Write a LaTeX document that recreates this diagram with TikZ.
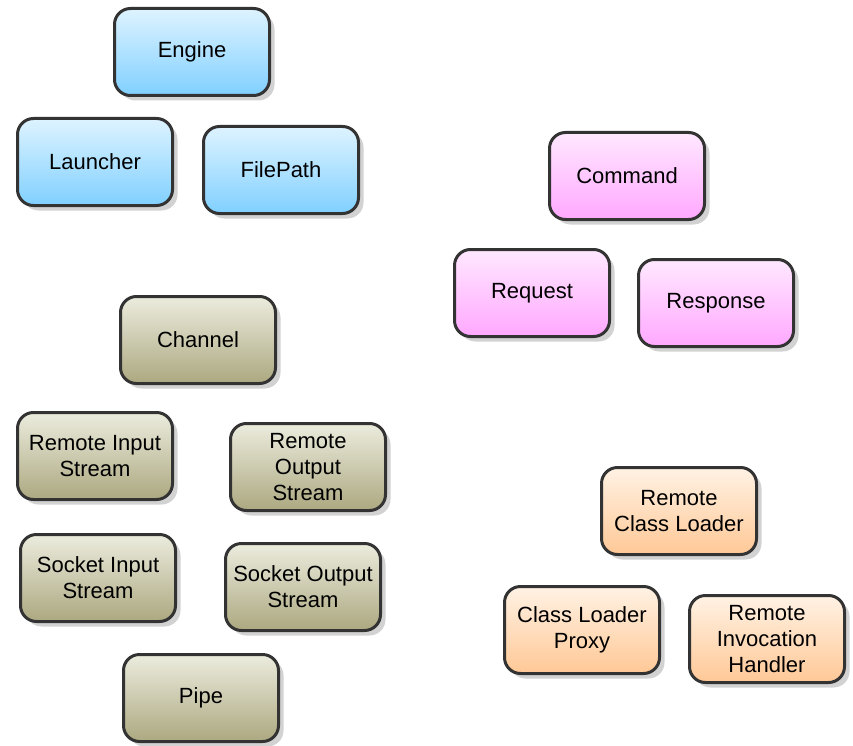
\documentclass[tikz,border=0pt]{standalone}
\usepackage{fontspec}
\setmainfont{Liberation Sans}
\usepackage{tikz}
\usetikzlibrary{shadows}
\usepackage{xcolor}

\definecolor{blueTop}{RGB}{222,243,255}
\definecolor{blueBot}{RGB}{128,208,255}
\definecolor{pinkTop}{RGB}{255,232,255}
\definecolor{pinkBot}{RGB}{255,168,255}
\definecolor{oliveTop}{RGB}{236,236,222}
\definecolor{oliveBot}{RGB}{172,168,128}
\definecolor{orangeTop}{RGB}{255,242,228}
\definecolor{orangeBot}{RGB}{255,200,150}

\begin{document}
\begin{tikzpicture}[x = 1pt, y = -1pt]
				    \tikzstyle{box}=[draw=black!80,line width = 3pt,rounded corners = 16pt,
				        minimum width = 155pt,minimum height = 87pt,align = center,
				        font = \fontsize{22}{26}\selectfont,
				        drop shadow = {shadow xshift = 5pt,shadow yshift = -5pt,fill = black!35}]
				    \tikzstyle{core}=[box,top color = blueTop,bottom color = blueBot]
				    \tikzstyle{cmd}=[box,top color = pinkTop,bottom color = pinkBot]
				    \tikzstyle{chan}=[box,top color = oliveTop,bottom color = oliveBot]
				    \tikzstyle{loader}=[box,top color = orangeTop,bottom color = orangeBot]
				    \useasboundingbox (0,0) rectangle (853,746);
				    % core
				    \node[core] (engine) at (192,52) {Engine};
				    \node[core] (launcher) at (95,162) {Launcher};
				    \node[core] (filepath) at (281,170) {FilePath};
				    % commands
				    \node[cmd] (command) at (627,176) {Command};
				    \node[cmd] (request) at (532,293) {Request};
				    \node[cmd] (response) at (716,303) {Response};
				    % channel
				    \node[chan] (channel) at (198,340) {Channel};
				    \node[chan] (ris) at (95,456) {Remote Input\\Stream};
				    \node[chan] (ros) at (308,467) {Remote\\Output\\Stream};
				    \node[chan] (sis) at (98,578) {Socket Input\\Stream};
				    \node[chan] (sos) at (303,587) {Socket Output\\Stream};
				    \node[chan] (pipe) at (201,698) {Pipe};
				    % class loading
				    \node[loader] (rcl) at (679,511) {Remote\\Class Loader};
				    \node[loader] (clp) at (582,630) {Class Loader\\Proxy};
				    \node[loader] (rih) at (767,639) {Remote\\Invocation\\Handler};
				\end{tikzpicture}
\end{document}
